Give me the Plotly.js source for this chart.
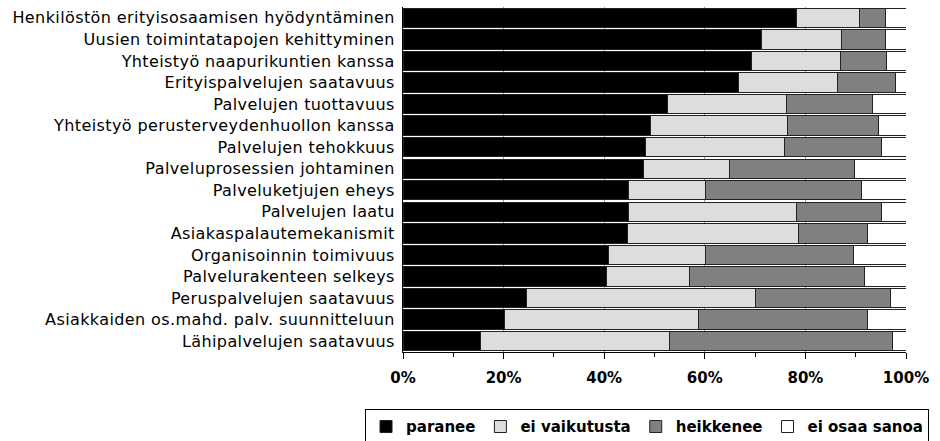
<!DOCTYPE html>
<html>
<head>
<meta charset="utf-8">
<script src="https://cdn.plot.ly/plotly-3.0.1.min.js"></script>
<style>html,body{margin:0;padding:0;background:#fff;}#chart{width:940px;height:441px;}
.ytick text{letter-spacing:0.4px;}
</style>
</head>
<body>
<div id="chart"></div>
<script>
const categories = [
  "Henkilöstön erityisosaamisen hyödyntäminen",
  "Uusien toimintatapojen kehittyminen",
  "Yhteistyö naapurikuntien kanssa",
  "Erityispalvelujen saatavuus",
  "Palvelujen tuottavuus",
  "Yhteistyö perusterveydenhuollon kanssa",
  "Palvelujen tehokkuus",
  "Palveluprosessien johtaminen",
  "Palveluketjujen eheys",
  "Palvelujen laatu",
  "Asiakaspalautemekanismit",
  "Organisoinnin toimivuus",
  "Palvelurakenteen selkeys",
  "Peruspalvelujen saatavuus",
  "Asiakkaiden os.mahd. palv. suunnitteluun",
  "Lähipalvelujen saatavuus"
];
const paranee      = [78.3, 71.2, 69.2, 66.7, 52.6, 49.3, 48.3, 47.8, 44.8, 44.9, 44.7, 40.9, 40.4, 24.6, 20.2, 15.5];
const eiVaikutusta = [12.4, 16.0, 17.7, 19.6, 23.7, 27.1, 27.6, 17.1, 15.4, 33.3, 33.9, 19.3, 16.6, 45.4, 38.5, 37.5];
const heikkenee    = [ 5.3,  8.8,  9.3, 11.6, 17.1, 18.1, 19.3, 24.8, 31.0, 17.0, 13.8, 29.3, 34.8, 26.9, 33.7, 44.3];
const eiOsaaSanoa  = [ 4.0,  4.0,  3.8,  2.1,  6.6,  5.5,  4.8, 10.3,  8.8,  4.8,  7.6, 10.5,  8.2,  3.1,  7.6,  2.7];
const seriesNames = ["paranee", "ei vaikutusta", "heikkenee", "ei osaa sanoa"];
const tickVals = [0, 20, 40, 60, 80, 100];
const tickText = ["0%", "20%", "40%", "60%", "80%", "100%"];

const colors = ["#000000", "#dddddd", "#808080", "#ffffff"];
const seriesData = [paranee, eiVaikutusta, heikkenee, eiOsaaSanoa];

const traces = seriesData.map((vals, i) => ({
  type: "bar",
  orientation: "h",
  name: seriesNames[i],
  x: vals,
  y: categories,
  marker: {color: colors[i], line: {color: "#222", width: 1}},
  hoverinfo: "x+y+name"
}));

const layout = {
  width: 940,
  height: 441,
  barmode: "stack",
  bargap: 0.1,
  margin: {l: 403, r: 34, t: 7, b: 89, autoexpand: false},
  paper_bgcolor: "#fff",
  plot_bgcolor: "#fff",
  font: {family: "DejaVu Sans, Open Sans, sans-serif", color: "#000"},
  xaxis: {
    range: [0, 100],
    tickvals: tickVals,
    ticktext: tickText,
    ticks: "outside",
    ticklen: 6,
    tickcolor: "#000",
    minor: {dtick: 10, ticks: "outside", ticklen: 4, tickcolor: "#000"},
    showline: true,
    linecolor: "#000",
    linewidth: 1,
    showgrid: true,
    gridcolor: "#999",
    gridwidth: 1,
    zeroline: false,
    tickfont: {size: 15, family: "DejaVu Sans, sans-serif", weight: "bold"},
    ticklabelstandoff: 6,
    fixedrange: true
  },
  yaxis: {
    autorange: "reversed",
    showline: true,
    linecolor: "#000",
    linewidth: 1,
    ticks: "",
    tickfont: {size: 16, family: "DejaVu Sans, sans-serif"},
    ticklabelstandoff: 4,
    showgrid: false,
    fixedrange: true
  },
  legend: {
    orientation: "h",
    x: -0.0755,
    xanchor: "left",
    y: -0.166,
    yanchor: "top",
    bordercolor: "#000",
    borderwidth: 1,
    font: {size: 15, weight: "bold", family: "DejaVu Sans, sans-serif"},
    itemwidth: 30,
    traceorder: "normal"
  },
  showlegend: true
};

Plotly.newPlot("chart", traces, layout, {displayModeBar: false, staticPlot: true});
</script>
</body>
</html>
